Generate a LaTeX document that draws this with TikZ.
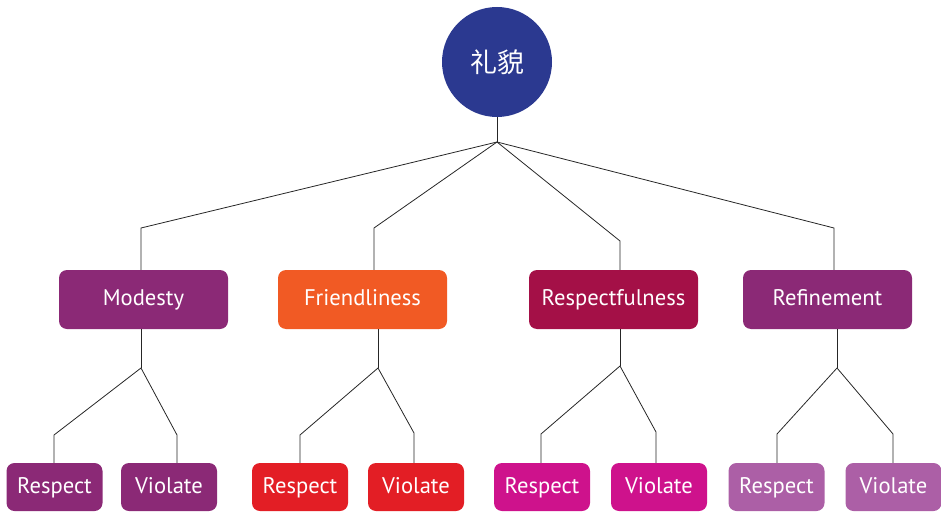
\documentclass[tikz,border=0pt]{standalone}
\usepackage{fontspec}
\setmainfont{PT Sans}
\newfontfamily\cjkfont{Noto Sans CJK SC}

\definecolor{rootblue}{RGB}{43,57,144}
\definecolor{plum}{RGB}{139,41,118}
\definecolor{tangerine}{RGB}{241,90,36}
\definecolor{crimson}{RGB}{164,16,71}
\definecolor{leafred}{RGB}{227,30,37}
\definecolor{leafpink}{RGB}{206,18,140}
\definecolor{lavender}{RGB}{172,95,166}

\tikzset{
  catbox/.style={rounded corners=8pt, minimum width=169pt, minimum height=59pt, inner sep=0pt,
    text=white, font=\fontsize{22.6}{26}\selectfont, text height=16pt, text depth=4pt},
  leafbox/.style={rounded corners=8pt, minimum width=96pt, minimum height=48pt, inner sep=0pt,
    text=white, font=\fontsize{22.6}{26}\selectfont, text height=16pt, text depth=4pt},
  link/.style={draw=black!85, line width=0.8pt}
}

\begin{document}
\begin{tikzpicture}[x=1pt,y=1pt,yscale=-1,xscale=1]
\useasboundingbox (0,0) rectangle (941,513);

% Root
\node [circle, fill=rootblue, minimum size=110pt, inner sep=0pt, text=white, font=\fontsize{27}{30}\selectfont] (root) at (497,62) {\cjkfont 礼貌};

% Categories
\node [catbox, fill=plum] (modesty) at (143.5,299.5) {Modesty};
\node [catbox, fill=tangerine] (friendly) at (362.5,299.5) {Friendliness};
\node [catbox, fill=crimson] (respectful) at (613.5,299.5) {Respectfulness};
\node [catbox, fill=plum] (refine) at (827.5,299.5) {Refinement};

% Leaves
\node [leafbox, fill=plum] (modresp) at (54.5,487) {Respect};
\node [leafbox, fill=plum] (modviol) at (169,487) {Violate};
\node [leafbox, fill=leafred] (friresp) at (300,487) {Respect};
\node [leafbox, fill=leafred] (friviol) at (416,487) {Violate};
\node [leafbox, fill=leafpink] (resresp) at (542,487) {Respect};
\node [leafbox, fill=leafpink] (resviol) at (659,487) {Violate};
\node [leafbox, fill=lavender] (refresp) at (776.5,487) {Respect};
\node [leafbox, fill=lavender] (refviol) at (893.5,487) {Violate};

% Joints
\coordinate (hub) at (497,142);
\coordinate (model) at (141,228);
\coordinate (friel) at (374,228);
\coordinate (resel) at (620,241);
\coordinate (refel) at (834,228);

\coordinate (modhub) at (141,368);
\coordinate (frihub) at (378,368);
\coordinate (reshub) at (620,366);
\coordinate (refhub) at (837,368);

\coordinate (modl) at (54,435);
\coordinate (modr) at (177,435);
\coordinate (fril) at (300,435);
\coordinate (frir) at (414,433);
\coordinate (resl) at (541,434);
\coordinate (resr) at (656,432);
\coordinate (refl) at (777,434);
\coordinate (refr) at (893,434);

% Connectors, first level
\draw [link] (root.south) -- (hub);
\draw [link] (hub) -- (model) -- (model |- modesty.north);
\draw [link] (hub) -- (friel) -- (friel |- friendly.north);
\draw [link] (hub) -- (resel) -- (resel |- respectful.north);
\draw [link] (hub) -- (refel) -- (refel |- refine.north);

% Connectors, second level
\draw [link] (modhub |- modesty.south) -- (modhub);
\draw [link] (modhub) -- (modl) -- (modl |- modresp.north);
\draw [link] (modhub) -- (modr) -- (modr |- modviol.north);

\draw [link] (frihub |- friendly.south) -- (frihub);
\draw [link] (frihub) -- (fril) -- (fril |- friresp.north);
\draw [link] (frihub) -- (frir) -- (frir |- friviol.north);

\draw [link] (reshub |- respectful.south) -- (reshub);
\draw [link] (reshub) -- (resl) -- (resl |- resresp.north);
\draw [link] (reshub) -- (resr) -- (resr |- resviol.north);

\draw [link] (refhub |- refine.south) -- (refhub);
\draw [link] (refhub) -- (refl) -- (refl |- refresp.north);
\draw [link] (refhub) -- (refr) -- (refr |- refviol.north);

\end{tikzpicture}
\end{document}
